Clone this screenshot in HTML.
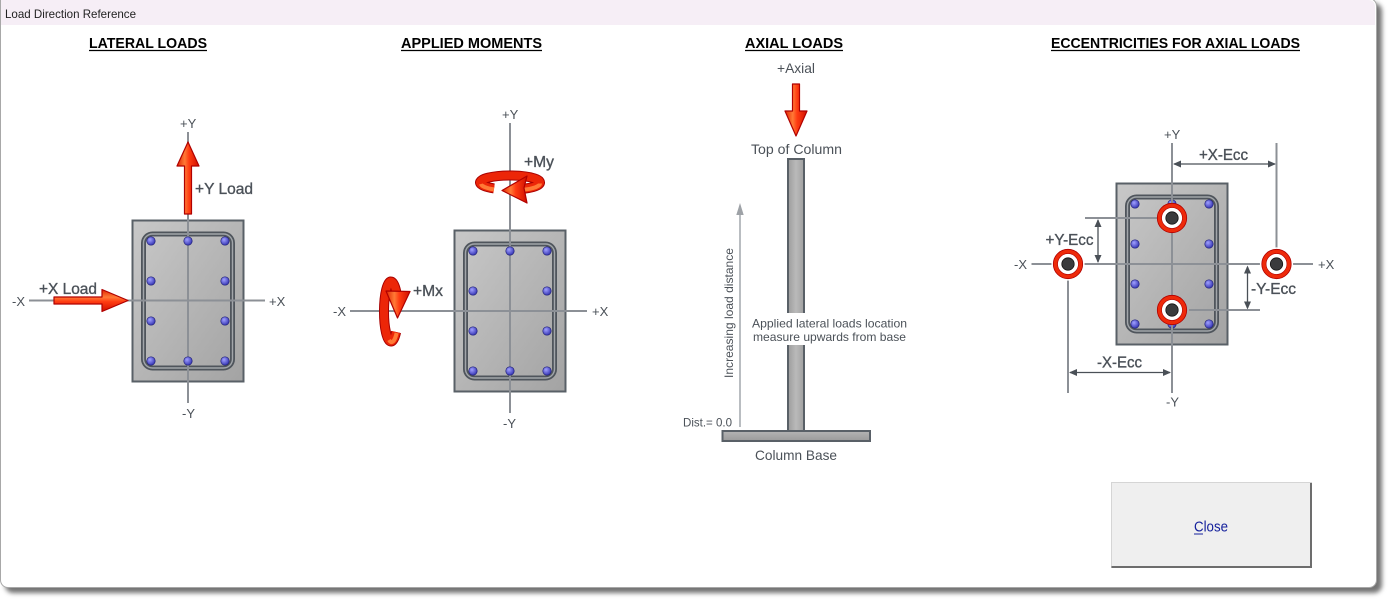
<!DOCTYPE html>
<html><head><meta charset="utf-8">
<style>
html,body{margin:0;padding:0;width:1391px;height:603px;overflow:hidden;background:#fff;}
#win{position:absolute;left:0;top:-2px;width:1377px;height:590px;box-sizing:border-box;background:#fff;border:1px solid #a8a8a8;border-radius:0 8px 8px 8px;box-shadow:5px 5px 5px rgba(0,0,0,0.55);}
svg{position:absolute;left:0;top:0;}
text{font-family:"Liberation Sans",Arial,sans-serif;}
</style></head><body>
<div id="win"></div>
<svg width="1391" height="603" viewBox="0 0 1391 603" xmlns="http://www.w3.org/2000/svg">
<defs>
<linearGradient id="conc" x1="0" y1="0" x2="1" y2="1">
<stop offset="0" stop-color="#c8c8c8"/><stop offset="1" stop-color="#a3a3a3"/>
</linearGradient>
<linearGradient id="colv" x1="0" y1="0" x2="1" y2="0">
<stop offset="0" stop-color="#9c9c9c"/><stop offset="0.5" stop-color="#bababa"/><stop offset="1" stop-color="#a0a0a0"/>
</linearGradient>
<linearGradient id="baseg" x1="0" y1="0" x2="0" y2="1">
<stop offset="0" stop-color="#b4b4b4"/><stop offset="1" stop-color="#9a9a9a"/>
</linearGradient>
<radialGradient id="bar" cx="0.38" cy="0.35" r="0.7">
<stop offset="0" stop-color="#a0a0ff"/><stop offset="1" stop-color="#3030b0"/>
</radialGradient>
<linearGradient id="arV" x1="0" y1="0" x2="1" y2="0">
<stop offset="0" stop-color="#e02400"/><stop offset="0.35" stop-color="#ff7a36"/><stop offset="0.55" stop-color="#ff3c12"/><stop offset="1" stop-color="#d01000"/>
</linearGradient>
<linearGradient id="arH" x1="0" y1="0" x2="0" y2="1">
<stop offset="0" stop-color="#e02400"/><stop offset="0.35" stop-color="#ff7a36"/><stop offset="0.55" stop-color="#ff3c12"/><stop offset="1" stop-color="#d01000"/>
</linearGradient>
<g id="col">
<rect x="-55.5" y="-80.5" width="111" height="161" fill="url(#conc)" stroke="#596067" stroke-width="2"/>
<rect x="-44.5" y="-67" width="89" height="134" rx="9" fill="none" stroke="#4f555c" stroke-width="5"/>
<rect x="-44.5" y="-67" width="89" height="134" rx="9" fill="none" stroke="#a2a6aa" stroke-width="1.4"/>
</g>
<g id="bars" fill="url(#bar)" stroke="#22227a" stroke-width="0.7">
<circle cx="-37" cy="-60" r="4.2"/><circle cx="0" cy="-60" r="4.2"/><circle cx="37" cy="-60" r="4.2"/>
<circle cx="-37" cy="-20" r="4.2"/><circle cx="37" cy="-20" r="4.2"/>
<circle cx="-37" cy="20" r="4.2"/><circle cx="37" cy="20" r="4.2"/>
<circle cx="-37" cy="60" r="4.2"/><circle cx="0" cy="60" r="4.2"/><circle cx="37" cy="60" r="4.2"/>
</g>
<g id="ecc">
<circle r="12.6" fill="#fff" stroke="#ee2a0a" stroke-width="4.2"/>
<circle r="14.7" fill="none" stroke="#b00000" stroke-width="0.8"/>
<circle r="10.4" fill="none" stroke="#b00000" stroke-width="0.6"/>
<circle r="6.2" fill="#3a3b3d" stroke="#111" stroke-width="0.8"/>
</g>
</defs>

<!-- title bar -->
<path d="M1,0 H1368 Q1375,0 1375,7 V25 H1 Z" fill="#f6eef6"/>
<text x="5" y="18" font-size="12" fill="#222" textLength="131" lengthAdjust="spacingAndGlyphs">Load Direction Reference</text>

<!-- headings -->
<g font-size="15" font-weight="bold" fill="#000">
<text x="89" y="48" textLength="118" lengthAdjust="spacingAndGlyphs">LATERAL LOADS</text>
<text x="401" y="48" textLength="141" lengthAdjust="spacingAndGlyphs">APPLIED MOMENTS</text>
<text x="745" y="48" textLength="98" lengthAdjust="spacingAndGlyphs">AXIAL LOADS</text>
<text x="1051" y="48" textLength="249" lengthAdjust="spacingAndGlyphs">ECCENTRICITIES FOR AXIAL LOADS</text>
</g>
<g stroke="#000" stroke-width="1.3">
<line x1="89" y1="50.5" x2="207" y2="50.5"/>
<line x1="401" y1="50.5" x2="542" y2="50.5"/>
<line x1="745" y1="50.5" x2="843" y2="50.5"/>
<line x1="1051" y1="50.5" x2="1300" y2="50.5"/>
</g>

<!-- ===== Panel 1: lateral loads ===== -->
<use href="#col" transform="translate(188,301)"/>
<g stroke="#8c9096" stroke-width="2">
<line x1="29" y1="300.5" x2="265" y2="300.5"/>
<line x1="188" y1="132" x2="188" y2="403"/>
</g>
<use href="#bars" transform="translate(188,301)"/>
<g font-size="13" fill="#4b5158">
<text x="180" y="128">+Y</text>
<text x="182" y="418">-Y</text>
<text x="12" y="306">-X</text>
<text x="269" y="306">+X</text>
</g>
<g font-size="16" fill="#4b5158" stroke="#4b5158" stroke-width="0.35">
<text x="195" y="194" textLength="58" lengthAdjust="spacingAndGlyphs">+Y Load</text>
<text x="39" y="294" textLength="58" lengthAdjust="spacingAndGlyphs">+X Load</text>
</g>
<path d="M184.5,214 V166 H177 L188,142 L199,166 H191.5 V214 Z" fill="url(#arV)" stroke="#b00000" stroke-width="1.2" stroke-linejoin="round"/>
<path d="M54,297 H102 V289.5 L128,300.5 L102,311.5 V304 H54 Z" fill="url(#arH)" stroke="#b00000" stroke-width="1.2" stroke-linejoin="round"/>

<!-- ===== Panel 2: applied moments ===== -->
<use href="#col" transform="translate(510,311)"/>
<g stroke="#8c9096" stroke-width="2">
<line x1="350" y1="311" x2="587" y2="311"/>
<line x1="510" y1="123" x2="510" y2="413"/>
</g>
<use href="#bars" transform="translate(510,311)"/>
<g font-size="13" fill="#4b5158">
<text x="502" y="119">+Y</text>
<text x="503" y="428">-Y</text>
<text x="333" y="316">-X</text>
<text x="592" y="316">+X</text>
</g>
<g font-size="16" fill="#4b5158" stroke="#4b5158" stroke-width="0.35">
<text x="524" y="167" textLength="30" lengthAdjust="spacingAndGlyphs">+My</text>
<text x="413" y="296" textLength="30" lengthAdjust="spacingAndGlyphs">+Mx</text>
</g>
<!-- My ring -->
<path d="M494,188.4 A30,7 0 1 1 522,188.9" fill="none" stroke="#a80000" stroke-width="10"/>
<path d="M494,188.4 A30,7 0 1 1 522,188.9" fill="none" stroke="#ec2608" stroke-width="8"/>
<path d="M540,183.5 A30,7 0 0 1 522,189.9" fill="none" stroke="#ff7a36" stroke-width="4"/>
<path d="M494,189.4 A30,7 0 0 1 481,184" fill="none" stroke="#ff7a36" stroke-width="4"/>
<path d="M502,190.5 L527,176 L524,188 L527,203 Z" fill="url(#arV)" stroke="#b00000" stroke-width="1.2" stroke-linejoin="round"/>
<!-- Mx ring -->
<path d="M396.3,292 A7,30 0 1 0 396.1,332" fill="none" stroke="#a80000" stroke-width="10"/>
<path d="M396.3,292 A7,30 0 1 0 396.1,332" fill="none" stroke="#ec2608" stroke-width="8"/>
<path d="M389,340 A7,30 0 0 0 396.6,333" fill="none" stroke="#ff7a36" stroke-width="4"/>
<path d="M386,291 L410,291.5 L397.5,318 Z" fill="url(#arV)" stroke="#b00000" stroke-width="1.2" stroke-linejoin="round"/>

<!-- ===== Panel 3: axial ===== -->
<rect x="788" y="159" width="16" height="272" fill="url(#colv)" stroke="#596067" stroke-width="2"/>
<rect x="722.5" y="431" width="147.5" height="10" fill="url(#baseg)" stroke="#596067" stroke-width="2"/>
<rect x="750" y="313" width="160" height="32" fill="#fff"/>
<g font-size="14" fill="#4b5158">
<text x="777" y="73" textLength="38" lengthAdjust="spacingAndGlyphs">+Axial</text>
<text x="751" y="154" textLength="91" lengthAdjust="spacingAndGlyphs">Top of Column</text>
<text x="755" y="460" textLength="82" lengthAdjust="spacingAndGlyphs">Column Base</text>
</g>
<g font-size="12" fill="#4b5158">
<text x="752" y="327.5" textLength="155" lengthAdjust="spacingAndGlyphs">Applied lateral loads location</text>
<text x="753" y="341" textLength="153" lengthAdjust="spacingAndGlyphs">measure upwards from base</text>
<text x="683" y="426.5" textLength="49" lengthAdjust="spacingAndGlyphs">Dist.= 0.0</text>
<text transform="translate(733,378) rotate(-90)" textLength="130" lengthAdjust="spacingAndGlyphs">Increasing load distance</text>
</g>
<line x1="740" y1="427" x2="740" y2="212" stroke="#b9bdc1" stroke-width="2"/>
<path d="M740,203 L736.3,215 L743.7,215 Z" fill="#9ea2a7"/>
<path d="M792.5,84 V111 H785 L796,136 L807,111 H799.5 V84 Z" fill="url(#arV)" stroke="#b00000" stroke-width="1.2" stroke-linejoin="round"/>

<!-- ===== Panel 4: eccentricities ===== -->
<use href="#col" transform="translate(1172,264)"/>
<use href="#bars" transform="translate(1172,264)"/>
<g stroke="#8c9096" stroke-width="2">
<line x1="1031.5" y1="264" x2="1313" y2="264"/>
<line x1="1172" y1="143" x2="1172" y2="393"/>
<line x1="1276.5" y1="143" x2="1276.5" y2="249"/>
<line x1="1068" y1="279" x2="1068" y2="393"/>
<line x1="1085" y1="218" x2="1157" y2="218"/>
<line x1="1189" y1="310" x2="1260" y2="310"/>
</g>
<circle cx="1068" cy="264" r="16.6" fill="#fff"/>
<circle cx="1276.5" cy="264" r="16.6" fill="#fff"/>
<use href="#ecc" transform="translate(1068,264)"/>
<use href="#ecc" transform="translate(1276.5,264)"/>
<use href="#ecc" transform="translate(1172,218)"/>
<use href="#ecc" transform="translate(1172,310)"/>
<g stroke="#4a5057" stroke-width="1.3">
<line x1="1174" y1="164" x2="1275" y2="164"/>
<line x1="1098" y1="220" x2="1098" y2="262"/>
<line x1="1247.5" y1="267" x2="1247.5" y2="308"/>
<line x1="1070" y1="372.5" x2="1170" y2="372.5"/>
</g>
<g fill="#4a5057">
<path d="M1173,164 L1181,160.5 L1181,167.5 Z"/>
<path d="M1276,164 L1268,160.5 L1268,167.5 Z"/>
<path d="M1098,219 L1094.5,227 L1101.5,227 Z"/>
<path d="M1098,263 L1094.5,255 L1101.5,255 Z"/>
<path d="M1247.5,265.5 L1244,273.5 L1251,273.5 Z"/>
<path d="M1247.5,309.5 L1244,301.5 L1251,301.5 Z"/>
<path d="M1069,372.5 L1077,369 L1077,376 Z"/>
<path d="M1171,372.5 L1163,369 L1163,376 Z"/>
</g>
<g font-size="13" fill="#4b5158">
<text x="1164" y="139">+Y</text>
<text x="1166" y="406.5">-Y</text>
<text x="1014" y="269">-X</text>
<text x="1318" y="269">+X</text>
</g>
<g font-size="16" fill="#4b5158" stroke="#4b5158" stroke-width="0.35">
<text x="1199" y="160" textLength="49" lengthAdjust="spacingAndGlyphs">+X-Ecc</text>
<text x="1045.5" y="245" textLength="48" lengthAdjust="spacingAndGlyphs">+Y-Ecc</text>
<text x="1251" y="294" textLength="45" lengthAdjust="spacingAndGlyphs">-Y-Ecc</text>
<text x="1097" y="367.5" textLength="45" lengthAdjust="spacingAndGlyphs">-X-Ecc</text>
</g>

<!-- Close button -->
<rect x="1111.5" y="482.5" width="200" height="85" fill="#efefef" stroke="#d5d5d5" stroke-width="1"/>
<path d="M1311,483 V567 H1111.5" fill="none" stroke="#6d6d6d" stroke-width="2"/>
<text x="1194" y="531.5" font-size="15" fill="#14209c" textLength="34" lengthAdjust="spacingAndGlyphs">Close</text>
<line x1="1194" y1="534" x2="1203" y2="534" stroke="#14209c" stroke-width="1"/>
</svg>
</body></html>
